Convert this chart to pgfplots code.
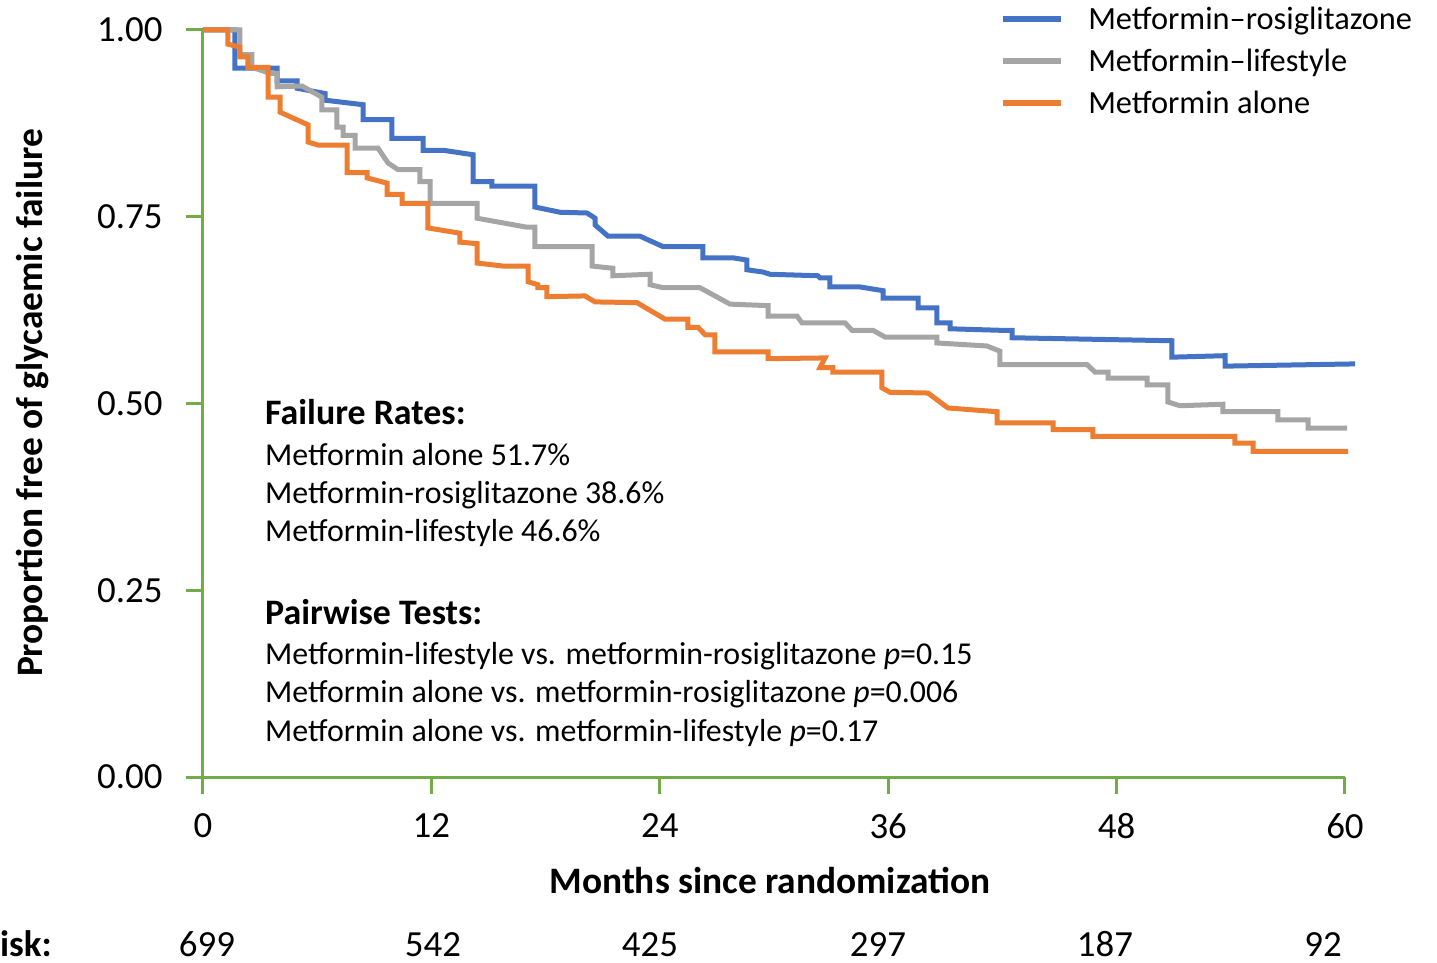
\documentclass[border=0pt]{standalone}
\usepackage{pgfplots}
\pgfplotsset{compat=1.18}
\usepackage{fontspec}
\setmainfont{Carlito}
\definecolor{cblue}{HTML}{4472C4}
\definecolor{cgray}{HTML}{A5A5A5}
\definecolor{corange}{HTML}{ED7D31}
\definecolor{cgreen}{HTML}{70AD47}
\begin{document}
\begin{tikzpicture}[x=1bp,y=1bp]
\clip (-203,-185) rectangle (1234,777);
\begin{axis}[
  at={(0,0)}, anchor=south west,
  scale only axis, width=1142bp, height=747bp,
  xmin=0, xmax=60, ymin=0, ymax=1,
  clip=false,
  axis lines*=left,
  axis line style={cgreen, line width=3bp},
  tick style={cgreen, line width=3bp},
  tick align=outside,
  major tick length=17bp,
  xtick={0,12,24,36,48,60},
  ytick={0,0.25,0.5,0.75,1},
  /pgf/number format/assume math mode=true,
  yticklabel style={/pgf/number format/fixed, /pgf/number format/fixed zerofill, /pgf/number format/precision=2, xshift=-20bp},
  xticklabel style={yshift=-16bp},
  tick label style={font=\fontsize{37}{40}\selectfont},
  xlabel={\bfseries Months since randomization},
  ylabel={\bfseries Proportion free of glycaemic failure},
  label style={font=\fontsize{37.5}{40}\selectfont},
  xlabel style={at={(axis description cs:0.4965,-0.1553)}, anchor=base},
  ylabel style={at={(axis description cs:-0.1489,0.5007)}, anchor=center},
  legend style={draw=none, fill=none, at={(axis description cs:0.698,1.034)}, anchor=north west,
    font=\fontsize{32.5}{34}\selectfont, inner sep=0pt, row sep=14bp,
    /tikz/every odd column/.append style={column sep=22bp}},
  legend cell align=left,
  legend image code/.code={\draw[#1, line width=6bp] (0bp,0bp) -- (58bp,0bp);},
  line join=miter,
]
\addplot[cblue, line width=5bp] coordinates {
(0,1.0) (1.68,1.0) (1.68,0.949) (3.89,0.949) (3.89,0.932) (4.94,0.932) (4.94,0.922) (6.41,0.915) (6.41,0.906) (8.41,0.900) (8.41,0.880) (9.93,0.880) (9.93,0.855) (11.56,0.855) (11.56,0.839) (12.61,0.839) (14.19,0.833) (14.19,0.797) (15.18,0.797) (15.18,0.791) (17.44,0.791) (17.44,0.763) (18.76,0.756) (20.18,0.755) (20.6,0.748) (20.6,0.739) (21.28,0.724) (22.96,0.724) (24.17,0.710) (26.27,0.710) (26.27,0.695) (27.85,0.695) (28.58,0.692) (28.58,0.679) (29.42,0.676) (29.79,0.673) (32.31,0.671) (32.42,0.668) (32.94,0.668) (32.94,0.656) (34.52,0.656) (35.73,0.651) (35.73,0.641) (37.57,0.641) (37.57,0.628) (38.56,0.628) (38.56,0.608) (39.25,0.608) (39.25,0.600) (41.87,0.598) (42.51,0.598) (42.51,0.588) (50.91,0.584) (50.91,0.562) (53.70,0.564) (53.70,0.550) (60.53,0.553)
};
\addlegendentry{Metformin–rosiglitazone}
\addplot[cgray, line width=5bp] coordinates {
(0,1.0) (1.94,1.0) (1.94,0.967) (2.57,0.967) (2.57,0.950) (3.52,0.942) (3.89,0.942) (3.89,0.924) (5.20,0.925) (6.25,0.910) (6.25,0.893) (7.04,0.893) (7.04,0.870) (7.36,0.870) (7.36,0.859) (7.99,0.859) (7.99,0.842) (9.19,0.842) (9.72,0.822) (10.25,0.813) (11.40,0.813) (11.40,0.797) (11.93,0.797) (11.93,0.768) (14.40,0.768) (14.40,0.748) (17.02,0.736) (17.44,0.736) (17.44,0.710) (20.44,0.710) (20.44,0.684) (21.54,0.681) (21.54,0.671) (23.49,0.673) (23.49,0.659) (24.17,0.655) (26.11,0.655) (27.69,0.633) (29.69,0.631) (29.69,0.617) (31.21,0.617) (31.47,0.608) (33.73,0.608) (34.10,0.598) (35.20,0.598) (35.83,0.589) (38.56,0.589) (38.56,0.581) (41.19,0.577) (41.87,0.570) (41.87,0.552) (46.45,0.552) (46.87,0.542) (47.55,0.542) (47.55,0.534) (49.60,0.534) (49.60,0.525) (50.70,0.525) (50.70,0.502) (51.33,0.497) (53.59,0.499) (53.59,0.489) (56.48,0.489) (56.48,0.478) (58.06,0.478) (58.06,0.467) (60.11,0.467)
};
\addlegendentry{Metformin–lifestyle}
\addplot[corange, line width=5bp] coordinates {
(0,1.0) (1.31,1.0) (1.31,0.981) (1.94,0.977) (1.94,0.964) (2.36,0.964) (2.36,0.950) (3.42,0.950) (3.42,0.910) (4.05,0.910) (4.05,0.890) (5.52,0.873) (5.52,0.850) (6.04,0.846) (7.57,0.846) (7.57,0.809) (8.62,0.809) (8.62,0.802) (9.67,0.795) (9.67,0.780) (10.46,0.780) (10.46,0.768) (11.82,0.768) (11.82,0.735) (13.50,0.728) (13.50,0.716) (14.40,0.714) (14.40,0.688) (15.76,0.684) (17.08,0.684) (17.08,0.663) (17.60,0.659) (17.60,0.655) (18.07,0.655) (18.07,0.643) (20.07,0.644) (20.60,0.636) (22.80,0.635) (24.27,0.613) (25.48,0.613) (25.48,0.602) (26.01,0.602) (26.38,0.592) (26.90,0.592) (26.90,0.569) (29.69,0.569) (29.69,0.560) (32.68,0.561) (32.42,0.548) (33.10,0.548) (33.10,0.542) (35.67,0.542) (35.67,0.521) (36.10,0.515) (38.09,0.514) (39.14,0.494) (41.72,0.489) (41.72,0.474) (44.66,0.474) (44.66,0.465) (46.76,0.465) (46.76,0.456) (54.22,0.456) (54.22,0.447) (55.17,0.447) (55.17,0.436) (60.16,0.436)
};
\addlegendentry{Metformin alone}
\end{axis}
\begin{scope}[every node/.style={anchor=base west, inner sep=0pt, font=\fontsize{32}{34}\selectfont}]
\node at (62,352) {\fontsize{36}{40}\selectfont\bfseries Failure Rates:};
\node at (62,311) {Metformin alone 51.7\%};
\node at (62,273) {Metformin-rosiglitazone 38.6\%};
\node at (62,235) {Metformin-lifestyle 46.6\%};
\node at (62,153) {\fontsize{36}{40}\selectfont\bfseries Pairwise Tests:};
\node at (62,113) {Metformin-lifestyle vs. metformin-rosiglitazone \textit{p}=0.15};
\node at (62,75) {Metformin alone vs. metformin-rosiglitazone \textit{p}=0.006};
\node at (62,36) {Metformin alone vs. metformin-lifestyle \textit{p}=0.17};
\end{scope}
\begin{scope}[every node/.style={anchor=base, inner sep=0pt, font=\fontsize{37}{40}\selectfont}]
\node[anchor=base east] at (-151,-179) {\bfseries Number at risk:};
\node at (4,-179) {699};
\node at (230,-179) {542};
\node at (447,-179) {425};
\node at (675,-179) {297};
\node at (902,-179) {187};
\node at (1120,-179) {92};
\end{scope}
\end{tikzpicture}
\end{document}
